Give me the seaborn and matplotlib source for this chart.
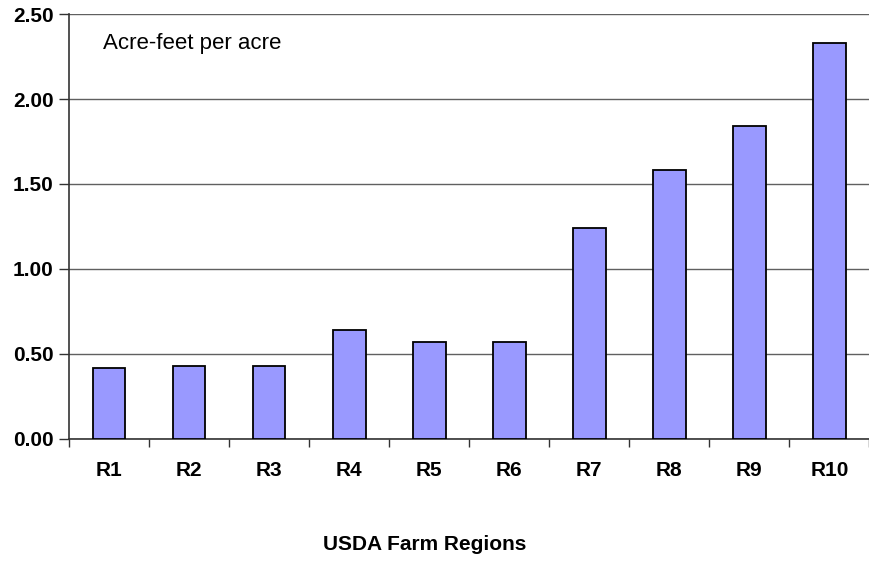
import numpy as np
import pandas as pd
import matplotlib
matplotlib.use('Agg')
import matplotlib.pyplot as plt
import seaborn as sns

# ── Data ─────────────────────────────────────────────────────────────────────
REGIONS = ["R1", "R2", "R3", "R4", "R5", "R6", "R7", "R8", "R9", "R10"]
ACRE_FEET = [0.42, 0.43, 0.43, 0.64, 0.57, 0.57, 1.24, 1.58, 1.84, 2.33]
Y_TICKS = [0.0, 0.5, 1.0, 1.5, 2.0, 2.5]

df = pd.DataFrame({"region": REGIONS, "value": ACRE_FEET})

sns.set_style("white")
plt.rcParams['font.family'] = ['Liberation Sans', 'DejaVu Sans']
plt.rcParams['text.color'] = "black"
plt.rcParams['xtick.color'] = "black"
plt.rcParams['ytick.color'] = "black"
plt.rcParams['axes.labelcolor'] = "black"

fig = plt.figure(figsize=(8.69, 5.62), dpi=100)
ax = fig.add_axes([0.0794, 0.219, 0.921, 0.756])

sns.barplot(data=df, x="region", y="value", color="#9999FF",
            edgecolor="black", linewidth=1.3, width=0.41, saturation=1,
            ax=ax, zorder=3)

# ── Axes styling ─────────────────────────────────────────────────────────────
ax.set_ylim(0, 2.5)
ax.set_xlim(-0.5, len(REGIONS) - 0.5)
ax.set_yticks(Y_TICKS)
ax.set_yticklabels([f"{t:.2f}" for t in Y_TICKS], fontsize=15, fontweight="bold")
ax.set_xticks(range(len(REGIONS)))
ax.set_xticklabels(REGIONS, fontsize=15, fontweight="bold")
ax.yaxis.grid(True, color="#606060", lw=1, zorder=0)
ax.set_axisbelow(True)

for s in ["top", "right"]:
    ax.spines[s].set_visible(False)
for s in ["left", "bottom"]:
    ax.spines[s].set_color("#333333")
    ax.spines[s].set_linewidth(1.2)

ax.tick_params(axis="y", left=True, length=7, width=1, color="#333333",
               direction="out", pad=4)
ax.tick_params(axis="x", which="major", bottom=True, length=0, pad=16)
ax.set_xticks(np.arange(-0.5, len(REGIONS), 1.0), minor=True)
ax.tick_params(axis="x", which="minor", bottom=True, length=6, width=1,
               color="#333333", direction="out")

ax.set_xlabel("USDA Farm Regions", fontsize=15, fontweight="bold")
ax.xaxis.set_label_coords(0.445, -0.225)
ax.set_ylabel("")
ax.text(0.043, 0.93, "Acre-feet per acre", transform=ax.transAxes,
        fontsize=16, va="center", ha="left")

fig.savefig("out.png", dpi=100)
plt.close(fig)
